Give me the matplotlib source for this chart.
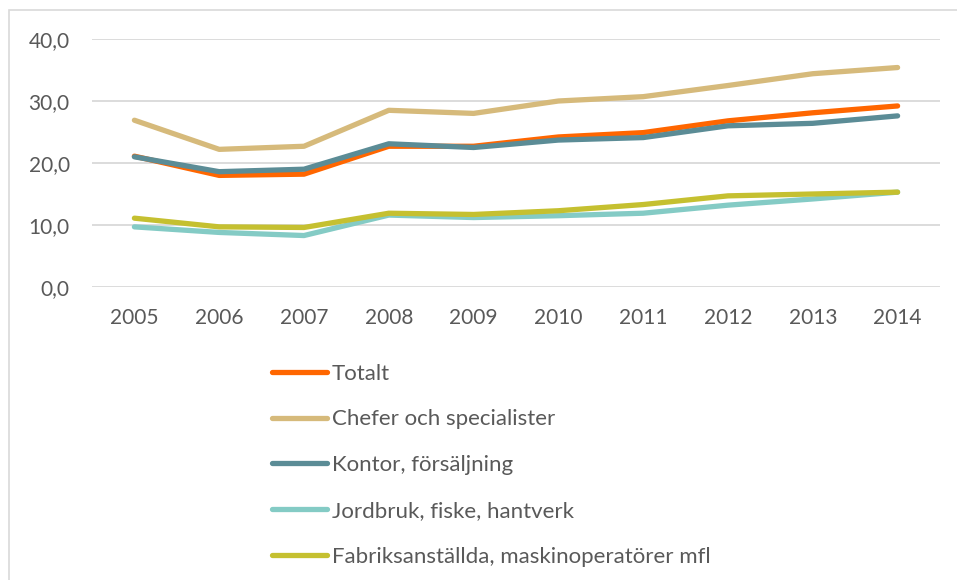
import matplotlib
matplotlib.use("Agg")
import matplotlib.pyplot as plt
from matplotlib.patches import Rectangle

years = ["2005", "2006", "2007", "2008", "2009", "2010", "2011", "2012", "2013", "2014"]
totalt = [21.1, 18.0, 18.2, 22.7, 22.7, 24.2, 24.9, 26.8, 28.1, 29.2]
chefer = [26.9, 22.2, 22.7, 28.5, 28.0, 30.0, 30.7, 32.5, 34.4, 35.4]
kontor = [21.0, 18.6, 19.0, 23.1, 22.5, 23.7, 24.1, 26.0, 26.4, 27.6]
jordbruk = [9.7, 8.8, 8.3, 11.6, 11.2, 11.5, 11.9, 13.2, 14.2, 15.3]
fabrik = [11.1, 9.7, 9.6, 11.9, 11.7, 12.3, 13.3, 14.7, 15.0, 15.3]

labels = ["Totalt", "Chefer och specialister", "Kontor, försäljning",
          "Jordbruk, fiske, hantverk", "Fabriksanställda, maskinoperatörer mfl"]
colors = ["#FF6600", "#D6BA7B", "#5B8C96", "#84CBC5", "#C5C030"]
series = [totalt, chefer, kontor, jordbruk, fabrik]
yticks = [0, 10, 20, 30, 40]
ytick_labels = ["0,0", "10,0", "20,0", "30,0", "40,0"]

plt.rcParams['font.family'] = ['Lato', 'DejaVu Sans']
W, H = 957, 580
fig = plt.figure(figsize=(W / 100, H / 100), dpi=100)
fig.patches.append(Rectangle((9 / W, -0.1), 1.2, 1 - 10 / H + 0.1,
                             transform=fig.transFigure, fill=False,
                             edgecolor="#D9D9D9", linewidth=1.2))
ax = fig.add_axes([92 / W, 1 - 287 / H, (940 - 92) / W, (287 - 39) / H])

x = list(range(len(years)))
for s, lab, c in zip(series, labels, colors):
    ax.plot(x, s, color=c, lw=3.8, label=lab, solid_capstyle='round',
            solid_joinstyle='round')

ax.set_xlim(-0.5, len(years) - 0.5)
ax.set_ylim(0, 40)
ax.set_yticks(yticks)
ax.set_yticklabels(ytick_labels)
ax.set_xticks(x)
ax.set_xticklabels(years)
ax.grid(axis='y', color="#D9D9D9", lw=1.3)
ax.set_axisbelow(True)
for sp in ax.spines.values():
    sp.set_visible(False)
ax.tick_params(axis='both', length=0, labelsize=15, colors="#595959")
ax.tick_params(axis='y', pad=16)
ax.tick_params(axis='x', pad=15)

fs = 16
fpx = fs * 100 / 72
leg = fig.legend(loc='upper left', bbox_to_anchor=(272 / W, 1 - 363.5 / H),
                 frameon=False, fontsize=fs, handlelength=55 / fpx,
                 handletextpad=5 / fpx, labelspacing=1.165, borderpad=0,
                 borderaxespad=0)
for t in leg.get_texts():
    t.set_color("#595959")

fig.savefig("out.png", dpi=100, facecolor="white")
